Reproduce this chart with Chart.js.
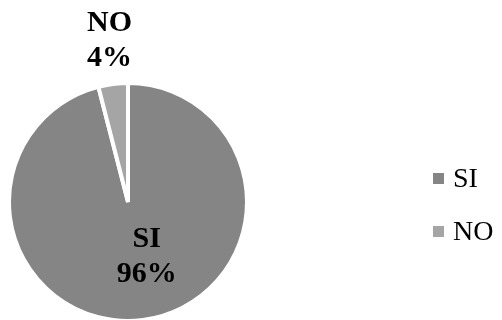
<!DOCTYPE html>
<html>
<head>
<meta charset="utf-8">
<script src="https://cdn.jsdelivr.net/npm/chart.js@4/dist/chart.umd.min.js"></script>
<style>
    html, body { margin: 0; padding: 0; background: #ffffff; }
    #wrap { width: 502px; height: 320px; }
</style>
</head>
<body>
<div id="wrap"><canvas id="pieChart" width="502" height="320"></canvas></div>
<script>
const categories = ['SI', 'NO'];
const percentages = [96, 4];
const sliceColors = ['#858585', '#a5a5a5'];

const serif = '"Liberation Serif", "Times New Roman", Times, serif';

// where each data label sits: fraction of radius and angle shift (deg) from the slice middle
const labelPlacement = [
    { radiusFrac: 0.48, angleShift: -12 },
    { radiusFrac: 1.37, angleShift: 0.7 }
];

const sliceLabels = {
    id: 'sliceLabels',
    afterDatasetsDraw(chart) {
        const ctx = chart.ctx;
        const arcs = chart.getDatasetMeta(0).data;
        ctx.save();
        ctx.font = 'bold 30px ' + serif;
        ctx.fillStyle = '#000000';
        ctx.textAlign = 'center';
        ctx.textBaseline = 'middle';
        arcs.forEach((arc, i) => {
            const p = arc.getProps(['x', 'y', 'startAngle', 'endAngle', 'outerRadius'], true);
            const mid = (p.startAngle + p.endAngle) / 2 + labelPlacement[i].angleShift * Math.PI / 180;
            const r = p.outerRadius * labelPlacement[i].radiusFrac;
            const x = p.x + Math.cos(mid) * r;
            const y = p.y + Math.sin(mid) * r;
            ctx.fillText(categories[i], x, y - 17);
            ctx.fillText(percentages[i] + '%', x, y + 18);
        });
        ctx.restore();
    }
};

const sideLegend = {
    id: 'sideLegend',
    afterDraw(chart) {
        const ctx = chart.ctx;
        ctx.save();
        ctx.font = '28px ' + serif;
        ctx.textAlign = 'left';
        ctx.textBaseline = 'alphabetic';
        categories.forEach((name, i) => {
            const top = 173 + i * 53;
            ctx.fillStyle = sliceColors[i];
            ctx.fillRect(433, top, 11, 11);
            ctx.fillStyle = '#000000';
            ctx.fillText(name, 453, top + 14);
        });
        ctx.restore();
    }
};

new Chart(document.getElementById('pieChart').getContext('2d'), {
    type: 'pie',
    data: {
        labels: categories,
        datasets: [{
            data: percentages,
            backgroundColor: sliceColors,
            borderColor: '#ffffff',
            borderWidth: 4,
            hoverOffset: 0,
            radius: 119
        }]
    },
    options: {
        responsive: false,
        animation: false,
        devicePixelRatio: 1,
        layout: { padding: { top: 84, left: 10, right: 256, bottom: 0 } },
        plugins: {
            legend: { display: false },
            tooltip: { enabled: false }
        }
    },
    plugins: [sliceLabels, sideLegend]
});
</script>
</body>
</html>
